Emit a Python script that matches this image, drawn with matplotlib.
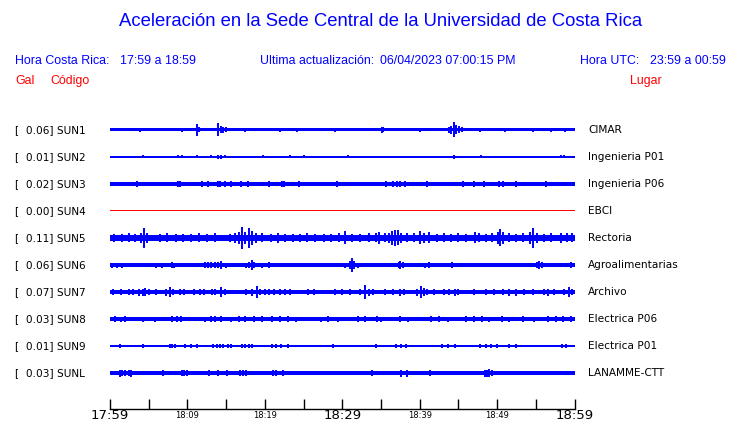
import numpy as np
import matplotlib
matplotlib.use('Agg')
import matplotlib.pyplot as plt

W, H = 740, 423  # figure size in pixels

# station codes, peak values (Gal) and places
codes = ['SUN1', 'SUN2', 'SUN3', 'SUN4', 'SUN5', 'SUN6', 'SUN7', 'SUN8', 'SUN9', 'SUNL']
peaks = [0.06, 0.01, 0.02, 0.00, 0.11, 0.06, 0.07, 0.03, 0.01, 0.03]
places = ['CIMAR', 'Ingenieria P01', 'Ingenieria P06', 'EBCI', 'Rectoria',
          'Agroalimentarias', 'Archivo', 'Electrica P06', 'Electrica P01', 'LANAMME-CTT']

# background noise half-amplitude of each trace (display units)
base_amp = [1.5, 0.6, 1.8, 0.5, 3.4, 1.8, 1.9, 1.9, 0.6, 1.9]

# bursts: (minute after 17:59, half-amplitude)
sun1 = [(3.9, 2), (9.3, 2), (11.3, 6), (11.5, 2.5), (14.0, 6.5), (14.3, 3.5), (14.6, 3),
        (15.0, 2.5), (17.5, 2), (22.0, 2), (24.1, 2), (29.1, 2), (35.1, 2.8), (35.3, 2.5),
        (40.1, 2), (43.8, 3), (44.1, 4), (44.4, 7.5), (44.7, 4.5), (45.1, 3.5), (45.5, 2.5),
        (47.8, 2), (51.0, 2), (54.7, 2), (56.9, 2.2), (58.8, 2)]
sun2 = [(4.3, 1.5), (8.75, 1.5), (9.35, 1.5), (11.25, 1.5), (13.0, 1.5), (14.0, 2),
        (14.4, 2), (14.9, 1.5), (19.7, 1.5), (23.2, 1.5), (25.1, 1.5), (30.7, 1.5),
        (44.4, 1.8), (47.9, 1.5), (58.2, 1.5), (58.6, 1.5)]
sun3 = [(3.5, 2.7), (8.75, 2.7), (9.05, 2.7), (11.9, 2.7), (12.7, 2.7), (14.0, 2.7),
        (14.2, 2.7), (14.9, 2.7), (15.6, 2.7), (16.9, 2.7), (17.8, 3), (20.5, 2.7),
        (22.2, 2.7), (22.5, 2.7), (24.4, 2.7), (29.3, 2.7), (35.6, 2.7), (36.6, 2.7),
        (37.1, 2.7), (37.5, 3), (38.1, 2.7), (41.0, 2.7), (45.6, 2.7), (47.0, 2.7),
        (48.3, 2.7), (50.2, 2.7), (50.7, 2.7), (52.5, 2.7), (56.3, 2.7)]
sun4 = []
sun5 = [(0.5, 4), (1.5, 4), (2.5, 4.5), (3.2, 4), (4.0, 5), (4.4, 10), (4.8, 5), (6.5, 4),
        (7.3, 4.5), (8.5, 4), (9.4, 4), (10.5, 4), (11.5, 4.5), (12.5, 4), (13.5, 4.5),
        (15.5, 4), (16.2, 5), (16.7, 6), (17.0, 11), (17.4, 6), (17.9, 10), (18.3, 7),
        (18.8, 5), (19.6, 4.5), (20.8, 4), (21.7, 5), (22.6, 4), (23.6, 4), (24.6, 4),
        (25.5, 4.5), (26.5, 4), (27.6, 4), (28.5, 4), (29.6, 4.5), (30.4, 6.5), (31.3, 4),
        (32.3, 4), (33.4, 4.5), (34.4, 4.5), (34.7, 6), (35.5, 4.5), (36.0, 5), (36.4, 7),
        (36.8, 8), (37.2, 7.5), (37.6, 5), (38.4, 4.5), (39.3, 4.5), (40.1, 6.5), (40.5, 5),
        (41.2, 5.5), (42.3, 4), (43.2, 4.5), (44.1, 4), (45.0, 4.5), (46.0, 4), (47.2, 5.5),
        (47.6, 4.5), (48.6, 4), (49.4, 4.5), (50.1, 6), (50.4, 8.5), (50.7, 6), (51.5, 4.5),
        (52.4, 4), (53.3, 4.5), (54.3, 6), (54.7, 10), (55.1, 5), (56.0, 4), (57.0, 4.5),
        (58.2, 5), (59.0, 4.5), (59.7, 4.5)]
sun6 = [(0.3, 2.5), (0.9, 2.5), (1.5, 2.5), (3.2, 2.3), (4.3, 2.3), (6.0, 2.5), (6.7, 2.5),
        (8.0, 3.2), (8.3, 2.5), (10.0, 2.3), (12.3, 2.8), (12.7, 3), (13.0, 2.8), (13.5, 3),
        (14.0, 2.8), (14.4, 3.5), (15.0, 2.5), (16.9, 2.3), (17.6, 2.5), (18.0, 3), (18.3, 4.5),
        (18.6, 3), (19.6, 2.5), (20.5, 2.8), (21.2, 2.3), (22.4, 2.3), (24.0, 2.3), (26.0, 2.3),
        (28.5, 2.3), (30.4, 2.5), (31.0, 3.5), (31.2, 7), (31.5, 3.5), (32.0, 2.5), (34.0, 2.3),
        (36.0, 2.3), (37.3, 3), (37.5, 4), (37.8, 2.8), (39.0, 2.3), (40.7, 2.5), (41.2, 3),
        (42.8, 2.3), (44.2, 2.8), (45.5, 2.3), (47.0, 2.3), (48.8, 2.3), (50.2, 2.3),
        (52.0, 2.3), (53.3, 2.3), (55.1, 2.8), (55.4, 3.5), (55.8, 2.8), (57.2, 2.3),
        (58.3, 2.3), (59.5, 3)]
sun7 = [(0.4, 3), (1.4, 2.8), (2.4, 3), (3.0, 3), (3.7, 3.5), (4.2, 3.5), (4.5, 4), (5.0, 3),
        (6.0, 3), (7.2, 3.5), (7.75, 4.5), (8.2, 3), (9.0, 3), (9.6, 2.8), (10.9, 3), (11.6, 3),
        (12.2, 3), (13.2, 3), (13.6, 3), (14.4, 4.5), (14.8, 3), (17.6, 3), (18.4, 3.5),
        (19.05, 6.3), (19.4, 3), (20.0, 3), (20.6, 3), (21.2, 3), (22.0, 3.2), (22.6, 3),
        (23.3, 3), (25.6, 3), (26.3, 3), (29.0, 3), (30.0, 3), (31.0, 3), (32.3, 3),
        (33.0, 6.7), (33.4, 3.5), (34.0, 3), (35.5, 3), (36.6, 3), (37.5, 3.5), (38.0, 3),
        (39.6, 3.5), (40.2, 6), (40.6, 4), (41.0, 3), (41.8, 3), (43.2, 3), (43.8, 3),
        (44.5, 3.5), (45.0, 3), (47.0, 3), (48.6, 3), (49.6, 3), (50.8, 3.2), (51.5, 3.5),
        (52.5, 3.5), (53.5, 3), (54.6, 3), (56.0, 3.2), (56.6, 3.5), (57.4, 3), (58.6, 3),
        (59.3, 4.5), (59.7, 3)]
sun8 = [(0.6, 2.8), (1.4, 2.5), (2.0, 2.8), (4.3, 2.5), (5.8, 2.5), (8.0, 2.8), (8.6, 3.2),
        (9.2, 2.8), (12.3, 2.5), (13.0, 2.8), (13.6, 2.8), (14.4, 2.8), (15.6, 2.5),
        (16.6, 2.8), (17.5, 2.8), (18.6, 2.8), (19.6, 3), (20.9, 2.8), (22.0, 2.8),
        (23.0, 2.8), (24.0, 2.5), (27.3, 2.5), (28.2, 2.8), (29.5, 2.5), (32.0, 2.8),
        (33.0, 2.8), (34.5, 2.8), (35.0, 2.5), (37.5, 2.8), (38.5, 2.5), (41.5, 2.8),
        (42.5, 2.8), (43.6, 2.5), (46.0, 2.8), (47.0, 2.8), (48.0, 2.8), (49.0, 2.5),
        (50.6, 3), (51.5, 2.5), (53.4, 2.8), (54.8, 2.5), (56.6, 2.8), (57.6, 2.8),
        (58.5, 2.8), (59.5, 2.8)]
sun9 = [(1.3, 1.6), (1.85, 1.4), (4.2, 1.9), (5.8, 1.4), (6.7, 1.4), (7.7, 1.6), (8.0, 1.6),
        (8.4, 1.6), (9.2, 1.4), (9.7, 1.6), (10.4, 1.6), (11.2, 1.6), (11.8, 1.4), (13.3, 1.6),
        (13.8, 1.8), (14.2, 1.8), (14.6, 1.8), (15.2, 1.8), (15.6, 1.6), (16.2, 1.4),
        (17.0, 1.6), (17.4, 1.6), (17.9, 1.6), (18.4, 1.6), (19.6, 1.4), (20.9, 1.6),
        (21.4, 1.6), (22.1, 1.6), (23.0, 1.6), (23.4, 1.4), (24.8, 1.4), (25.6, 1.4),
        (27.4, 1.4), (28.8, 1.6), (29.2, 1.4), (30.8, 1.4), (34.3, 1.6), (34.8, 1.4),
        (35.8, 1.4), (36.9, 1.6), (37.6, 1.6), (38.2, 1.6), (39.2, 1.4), (39.8, 1.4),
        (41.4, 1.4), (42.9, 1.6), (43.6, 1.6), (44.5, 1.6), (45.0, 1.4), (46.6, 1.4),
        (47.8, 1.6), (48.6, 1.6), (49.2, 1.6), (50.0, 1.6), (50.9, 1.4), (51.5, 1.6),
        (52.4, 1.6), (53.2, 1.4), (54.3, 1.4), (56.7, 1.4), (58.4, 1.6), (58.9, 1.6)]
sunl = [(1.3, 3.5), (1.6, 2.6), (2.0, 2.6), (2.4, 2.6), (2.7, 3.5), (3.7, 2.4), (4.8, 2.4),
        (6.9, 3), (7.6, 2.4), (8.3, 2.4), (9.3, 2.6), (9.6, 2.6), (9.9, 2.6), (12.8, 2.5),
        (14.0, 2.6), (15.1, 2.8), (16.8, 2.6), (17.2, 2.6), (17.6, 2.6), (18.4, 2.4),
        (19.7, 2.4), (21.0, 2.6), (21.4, 2.6), (22.4, 2.6), (24.0, 2.4), (29.3, 2.4),
        (32.0, 2.4), (33.8, 2.6), (35.4, 2.4), (36.2, 2.4), (36.8, 2.4), (37.6, 3.5),
        (38.3, 3.5), (40.5, 2.4), (41.3, 2.6), (46.6, 2.4), (47.8, 2.4), (48.4, 3.5),
        (48.7, 3.5), (49.0, 3.8), (49.3, 3), (50.7, 2.4), (54.7, 2.4), (55.8, 2.4),
        (56.5, 2.4), (59.7, 2.4)]
bursts = [sun1, sun2, sun3, sun4, sun5, sun6, sun7, sun8, sun9, sunl]
trace_colors = ['blue'] * 3 + ['red'] + ['blue'] * 6

tick_minutes = list(range(0, 61, 5))
tick_labels = ['17:59', '', '18:09', '', '18:19', '', '18:29', '', '18:39', '', '18:49', '', '18:59']

ROW = 27.0  # pixels between traces


def fx(px):
    return px / W


def fy(py):
    return 1 - py / H


fig = plt.figure(figsize=(W / 100, H / 100), dpi=100)
fig.patch.set_facecolor('white')

# axes: x = minutes, y = trace index (row 0 at pixel 130, axis line at pixel 409)
top_px, bot_px = 116.5, 409.0
ax = fig.add_axes([fx(110), fy(bot_px), fx(574.5) - fx(110), (bot_px - top_px) / H])
ax.set_xlim(0, 60)
ax.set_ylim((bot_px - 130) / ROW, (top_px - 130) / ROW)
for s in ['top', 'left', 'right']:
    ax.spines[s].set_visible(False)
ax.spines['bottom'].set_linewidth(1.0)
ax.set_yticks([])
ax.set_xticks(tick_minutes)
ax.set_xticklabels(tick_labels)
ax.tick_params(axis='x', direction='in', length=7.2, width=1.0, pad=4.6, colors='black')
for i, lab in enumerate(ax.get_xticklabels()):
    lab.set_verticalalignment('center')
    lab.set_fontsize(9.5 if tick_minutes[i] % 30 == 0 else 6)

for i in range(len(codes)):
    c = trace_colors[i]
    b = base_amp[i] / ROW
    ax.fill_between([0, 60], i - b, i + b, color=c, lw=0)
    if bursts[i]:
        t = np.array([e[0] for e in bursts[i]])
        a = np.array([e[1] for e in bursts[i]]) / ROW
        ax.vlines(t, i - a, i + a, color=c, lw=1.4)

    ypix = 130 + ROW * i
    fig.text(fx(15), fy(ypix), '[  %.2f] %s' % (peaks[i], codes[i]),
             fontsize=7.6, family='DejaVu Sans', va='center', ha='left')
    fig.text(fx(588), fy(ypix), places[i],
             fontsize=7.6, family='DejaVu Sans', va='center', ha='left')

hdr = dict(family='Liberation Sans', va='center', ha='left', fontsize=8.9)
fig.text(fx(381), fy(22), 'Aceleración en la Sede Central de la Universidad de Costa Rica',
         fontsize=13.3, color='blue', family='Liberation Sans', va='center', ha='center')
fig.text(fx(15), fy(61), 'Hora Costa Rica:', color='blue', **hdr)
fig.text(fx(120), fy(61), '17:59 a 18:59', color='blue', **hdr)
fig.text(fx(260), fy(61), 'Ultima actualización:', color='blue', **hdr)
fig.text(fx(380), fy(61), '06/04/2023 07:00:15 PM', color='blue', **hdr)
fig.text(fx(580), fy(61), 'Hora UTC:', color='blue', **hdr)
fig.text(fx(650), fy(61), '23:59 a 00:59', color='blue', **hdr)
fig.text(fx(15), fy(81), 'Gal', color='red', **hdr)
fig.text(fx(50), fy(81), 'Código', color='red', **hdr)
fig.text(fx(630), fy(81), 'Lugar', color='red', **hdr)

fig.savefig('out.png', dpi=100, facecolor='white')
